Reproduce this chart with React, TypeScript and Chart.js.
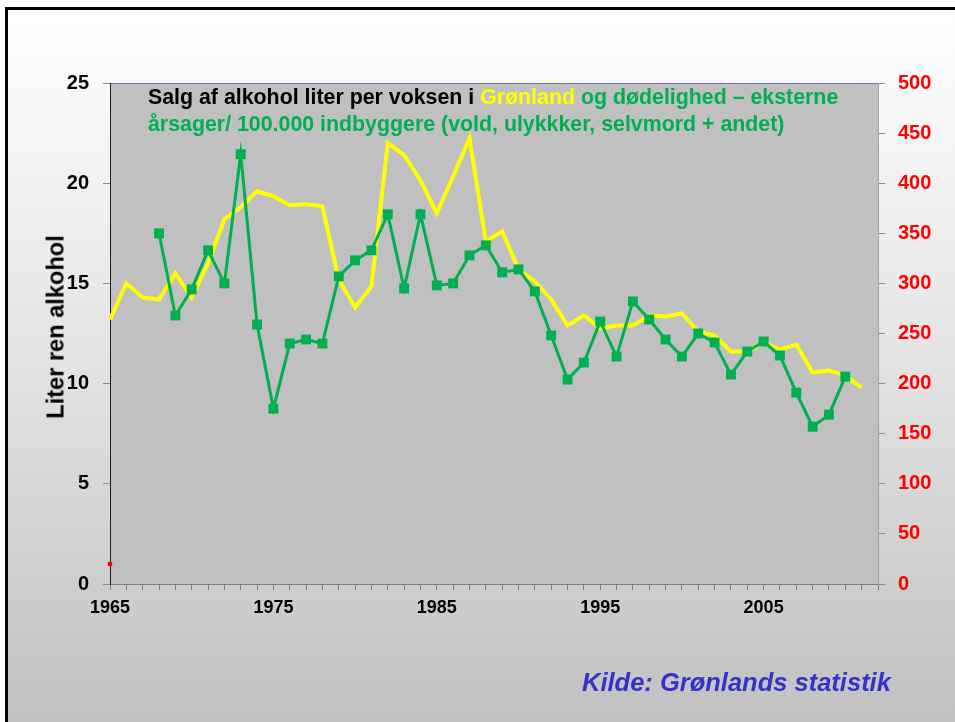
import React, { useEffect, useRef } from 'react';
import { Chart, registerables } from 'chart.js';

Chart.register(...registerables);

const FONT = '"Liberation Sans", Arial, sans-serif';

// Alcohol sales (liter per adult), left axis
const alcoholYears = [
  1965, 1966, 1967, 1968, 1969, 1970, 1971, 1972, 1973, 1974,
  1975, 1976, 1977, 1978, 1979, 1980, 1981, 1982, 1983, 1984,
  1985, 1986, 1987, 1988, 1989, 1990, 1991, 1992, 1993, 1994,
  1995, 1996, 1997, 1998, 1999, 2000, 2001, 2002, 2003, 2004,
  2005, 2006, 2007, 2008, 2009, 2010, 2011,
];
const alcoholValues = [
  13.2, 15.0, 14.3, 14.2, 15.5, 14.3, 16.0, 18.2, 18.8, 19.6,
  19.35, 18.9, 18.95, 18.85, 15.2, 13.8, 14.85, 22.0, 21.4, 20.15,
  18.5, 20.35, 22.25, 17.1, 17.6, 15.7, 15.1, 14.2, 12.9, 13.4,
  12.75, 12.9, 12.9, 13.4, 13.35, 13.5, 12.6, 12.4, 11.6, 11.6,
  12.05, 11.7, 11.95, 10.55, 10.65, 10.4, 9.8,
];

// External-cause mortality per 100.000, right axis
const mortalityYears = [
  1968, 1969, 1970, 1971, 1972, 1973, 1974, 1975, 1976, 1977,
  1978, 1979, 1980, 1981, 1982, 1983, 1984, 1985, 1986, 1987,
  1988, 1989, 1990, 1991, 1992, 1993, 1994, 1995, 1996, 1997,
  1998, 1999, 2000, 2001, 2002, 2003, 2004, 2005, 2006, 2007,
  2008, 2009, 2010,
];
const mortalityValues = [
  350, 268, 294, 333, 300, 429, 259, 175, 240, 244,
  240, 307, 323, 333, 369, 295, 369, 298, 300, 328,
  338, 311, 314, 292, 248, 204, 221, 262, 227, 282,
  264, 244, 227, 250, 241, 209, 232, 242, 228, 191,
  157, 169, 207,
];

// Small red marker at the start
const markerYears = [1965];
const markerValues = [20];

const xLabelYears = [1965, 1975, 1985, 1995, 2005];

const plotBg = {
  id: 'plotBg',
  beforeDraw(chart: any) {
    const { ctx, chartArea } = chart;
    const { left, top, right, bottom } = chartArea;
    ctx.save();
    ctx.fillStyle = '#C0C0C0';
    ctx.fillRect(left, top, right - left, bottom - top);
    ctx.strokeStyle = '#7070B4';
    ctx.lineWidth = 1;
    ctx.beginPath();
    ctx.moveTo(left, top + 0.5);
    ctx.lineTo(right, top + 0.5);
    ctx.stroke();
    ctx.restore();
  },
};

export default function App() {
  const ref = useRef<HTMLCanvasElement>(null);

  useEffect(() => {
    if (!ref.current) return;
    const chart = new Chart(ref.current, {
      type: 'line',
      data: {
        datasets: [
          {
            label: 'Dødelighed',
            data: mortalityYears.map((x, i) => ({ x, y: mortalityValues[i] })),
            yAxisID: 'y1',
            borderColor: '#00B050',
            backgroundColor: '#00B050',
            borderWidth: 3,
            pointStyle: 'rect',
            pointRadius: 7,
            pointHoverRadius: 7,
            pointBorderWidth: 0,
            pointBackgroundColor: '#00B050',
            tension: 0,
            order: 0,
            clip: false as any,
          },
          {
            label: 'Marker',
            data: markerYears.map((x, i) => ({ x, y: markerValues[i] })),
            yAxisID: 'y1',
            showLine: false,
            pointStyle: 'rect',
            pointRadius: 3,
            pointBorderWidth: 0,
            pointBackgroundColor: '#FF0000',
            backgroundColor: '#FF0000',
            borderColor: '#FF0000',
            order: 0,
            clip: false as any,
          },
          {
            label: 'Alkohol',
            data: alcoholYears.map((x, i) => ({ x, y: alcoholValues[i] })),
            yAxisID: 'y',
            borderColor: '#FFFF00',
            backgroundColor: '#FFFF00',
            borderWidth: 4,
            pointRadius: 0,
            pointHoverRadius: 0,
            tension: 0,
            order: 1,
            clip: false as any,
          },
        ],
      },
      options: {
        responsive: false,
        animation: false,
        devicePixelRatio: 1,
        layout: { padding: { top: 83, left: 0, right: 0, bottom: 0 } },
        plugins: {
          legend: { display: false },
          tooltip: { enabled: false },
          title: { display: false },
        },
        scales: {
          x: {
            type: 'linear',
            position: 'bottom',
            min: 1965,
            max: 2012,
            afterFit: (s: any) => { s.height = 138; },
            grid: { drawOnChartArea: false, drawTicks: true, tickLength: 6, color: '#7F7F7F' },
            border: { color: '#7F7F7F', width: 1 },
            ticks: {
              stepSize: 1,
              autoSkip: false,
              maxRotation: 0,
              minRotation: 0,
              padding: 7,
              color: '#000000',
              font: { family: FONT, size: 18, weight: 'bold' },
              callback: (v: any) => (xLabelYears.includes(Number(v)) ? String(v) : ''),
            },
          },
          y: {
            type: 'linear',
            position: 'left',
            min: 0,
            max: 25,
            afterFit: (s: any) => { s.width = 110; },
            grid: { drawOnChartArea: false, drawTicks: true, tickLength: 7, color: '#8C8C8C' },
            border: { color: '#202020', width: 1 },
            ticks: {
              stepSize: 5,
              padding: 14,
              color: '#000000',
              font: { family: FONT, size: 20, weight: 'bold' },
            },
          },
          y1: {
            type: 'linear',
            position: 'right',
            min: 0,
            max: 500,
            afterFit: (s: any) => { s.width = 77; },
            grid: { drawOnChartArea: false, drawTicks: true, tickLength: 7, color: '#8C8C8C' },
            border: { color: '#A0A0A0', width: 1 },
            ticks: {
              stepSize: 50,
              padding: 13,
              color: '#FF0000',
              font: { family: FONT, size: 20, weight: 'bold' },
            },
          },
        },
      },
      plugins: [plotBg],
    });
    return () => chart.destroy();
  }, []);

  return (
    <div
      style={{
        position: 'fixed',
        left: 0,
        top: 0,
        width: 955,
        height: 722,
        overflow: 'hidden',
        background: '#FFFFFF',
        fontFamily: FONT,
      }}
    >
      <div
        style={{
          position: 'absolute',
          left: 5,
          top: 7,
          width: 980,
          height: 760,
          border: '3px solid #000000',
          background: 'linear-gradient(to bottom, #FFFFFF 0%, #E4E4E4 45%, #C0C0C0 95%)',
        }}
      />
      <canvas
        ref={ref}
        width={955}
        height={722}
        style={{ position: 'absolute', left: 0, top: 0, width: 955, height: 722 }}
      />
      <div
        style={{
          position: 'absolute',
          left: 148,
          top: 84,
          fontSize: 21.35,
          fontWeight: 'bold',
          lineHeight: '26.7px',
          whiteSpace: 'nowrap',
          color: '#00B050',
        }}
      >
        <div>
          <span style={{ color: '#000000' }}>Salg af alkohol liter per voksen i </span>
          <span style={{ color: '#FFFF00' }}>Grønland</span>
          <span> og dødelighed – eksterne</span>
        </div>
        <div>årsager/ 100.000 indbyggere (vold, ulykkker, selvmord + andet)</div>
      </div>
      <div
        style={{
          position: 'absolute',
          left: 56,
          top: 327,
          transform: 'translate(-50%, -50%) rotate(-90deg)',
          fontSize: 23.6,
          fontWeight: 'bold',
          whiteSpace: 'nowrap',
          color: '#000000',
        }}
      >
        Liter ren alkohol
      </div>
      <div
        style={{
          position: 'absolute',
          left: 582,
          top: 667,
          fontSize: 25.5,
          lineHeight: '30px',
          fontWeight: 'bold',
          fontStyle: 'italic',
          whiteSpace: 'nowrap',
          color: '#3333CC',
        }}
      >
        Kilde: Grønlands statistik
      </div>
    </div>
  );
}
